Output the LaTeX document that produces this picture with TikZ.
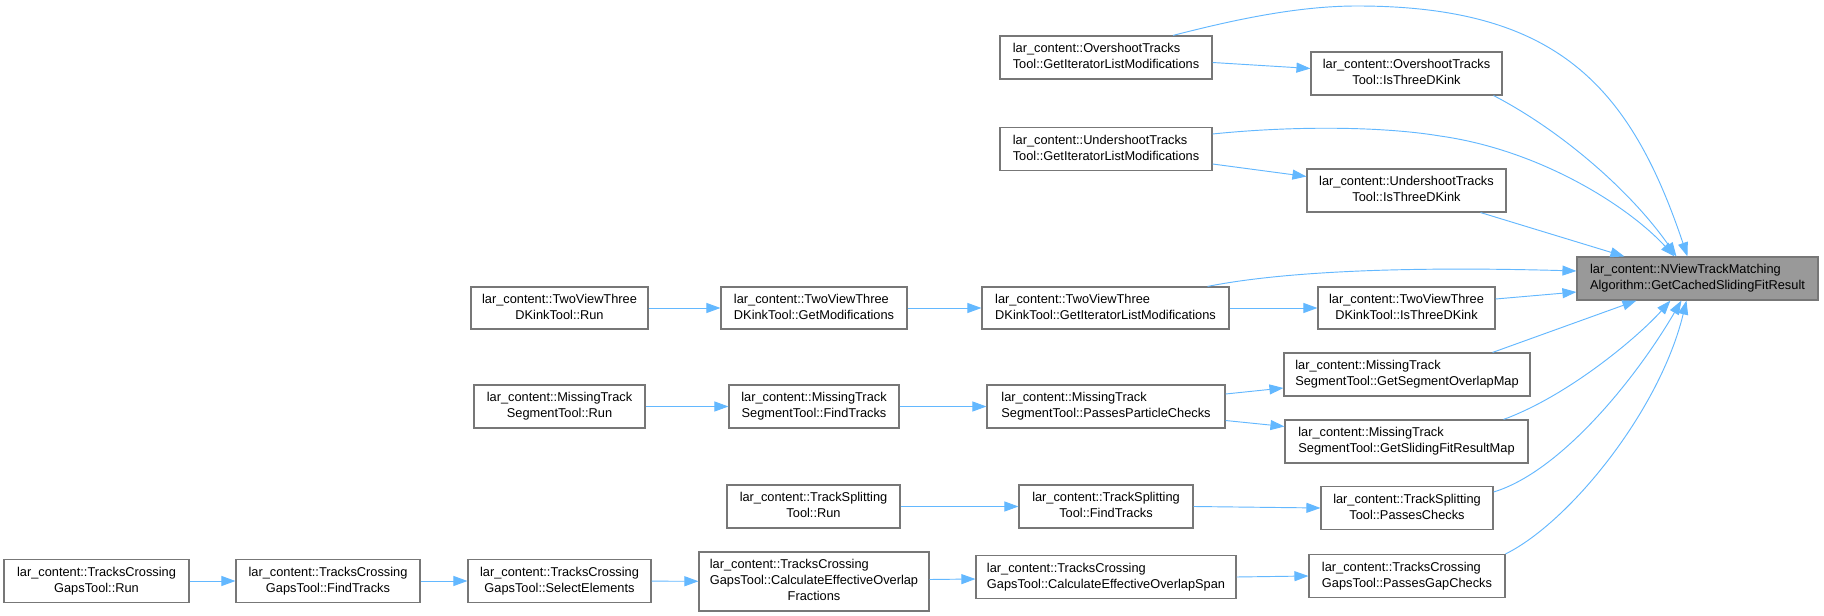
\documentclass[tikz,border=0pt]{standalone}
\usepackage{fontspec}
\setmainfont{Liberation Sans}
\usetikzlibrary{arrows.meta,calc}
\definecolor{edgeblue}{HTML}{63B8FF}
\definecolor{boxline}{HTML}{777777}
\definecolor{tgtfill}{HTML}{999999}
\newcommand\lbl[2]{\begin{tabular}{@{}l@{}}#1\\\multicolumn{1}{@{}c@{}}{#2}\end{tabular}}
\newcommand\lbliii[3]{\begin{tabular}{@{}l@{}}#1\\#2\\\multicolumn{1}{@{}c@{}}{#3}\end{tabular}}
\begin{document}
\begin{tikzpicture}[x=0.75pt,y=-0.75pt,
  box/.style={draw=boxline,line width=0.85pt,fill=white,rectangle,inner sep=0pt,
    minimum height=32.25pt,font=\fontsize{9.6pt}{11.8pt}\selectfont},
  edge/.style={draw=edgeblue,line width=0.7pt,-{Triangle[length=10.5pt,width=7.5pt]}}]
\useasboundingbox (0,0) rectangle (1824,616);
\fill[white] (0,0) rectangle (1824,616);
% nodes
\node[box,fill=tgtfill,minimum width=180.75pt] (tgt) at (1697.5,278.5) {\lbl{lar\_content::NViewTrackMatching}{Algorithm::GetCachedSlidingFitResult}};
\node[box,minimum width=159pt] (osgil) at (1106,57.5) {\lbl{lar\_content::OvershootTracks}{Tool::GetIteratorListModifications}};
\node[box,minimum width=143.25pt] (osk) at (1406.5,73.5) {\lbl{lar\_content::OvershootTracks}{Tool::IsThreeDKink}};
\node[box,minimum width=159pt] (usgil) at (1106,149) {\lbl{lar\_content::UndershootTracks}{Tool::GetIteratorListModifications}};
\node[box,minimum width=149.25pt] (usk) at (1406.5,190.5) {\lbl{lar\_content::UndershootTracks}{Tool::IsThreeDKink}};
\node[box,minimum width=185.25pt,minimum height=31.5pt] (tvgil) at (1105.5,308) {\lbl{lar\_content::TwoViewThree}{DKinkTool::GetIteratorListModifications}};
\node[box,minimum width=132.75pt,minimum height=31.5pt] (tvk) at (1406.5,308) {\lbl{lar\_content::TwoViewThree}{DKinkTool::IsThreeDKink}};
\node[box,minimum width=139.5pt,minimum height=31.5pt] (tvgm) at (814,308) {\lbl{lar\_content::TwoViewThree}{DKinkTool::GetModifications}};
\node[box,minimum width=132.75pt,minimum height=31.5pt] (tvrun) at (559.5,308) {\lbl{lar\_content::TwoViewThree}{DKinkTool::Run}};
\node[box,minimum width=128.25pt] (mtrun) at (559.5,406.5) {\lbl{lar\_content::MissingTrack}{SegmentTool::Run}};
\node[box,minimum width=127.5pt] (mtft) at (814,406.5) {\lbl{lar\_content::MissingTrack}{SegmentTool::FindTracks}};
\node[box,minimum width=178.5pt] (mtppc) at (1106,406.5) {\lbl{lar\_content::MissingTrack}{SegmentTool::PassesParticleChecks}};
\node[box,minimum width=184.5pt] (mtso) at (1407,374.5) {\lbl{lar\_content::MissingTrack}{SegmentTool::GetSegmentOverlapMap}};
\node[box,minimum width=182.25pt] (mtsf) at (1406.5,441.5) {\lbl{lar\_content::MissingTrack}{SegmentTool::GetSlidingFitResultMap}};
\node[box,minimum width=129.75pt] (tsrun) at (813.5,506.5) {\lbl{lar\_content::TrackSplitting}{Tool::Run}};
\node[box,minimum width=130.5pt] (tsft) at (1106,506.5) {\lbl{lar\_content::TrackSplitting}{Tool::FindTracks}};
\node[box,minimum width=129pt] (tspc) at (1407,508) {\lbl{lar\_content::TrackSplitting}{Tool::PassesChecks}};
\node[box,minimum width=138.75pt] (tcrun) at (96.5,581) {\lbl{lar\_content::TracksCrossing}{GapsTool::Run}};
\node[box,minimum width=138pt] (tcft) at (328,581) {\lbl{lar\_content::TracksCrossing}{GapsTool::FindTracks}};
\node[box,minimum width=137.25pt] (tcse) at (559.5,581) {\lbl{lar\_content::TracksCrossing}{GapsTool::SelectElements}};
\node[box,minimum width=172.5pt,minimum height=44.25pt] (tcfrac) at (814,581.5) {\lbliii{lar\_content::TracksCrossing}{GapsTool::CalculateEffectiveOverlap}{Fractions}};
\node[box,minimum width=195pt] (tcspan) at (1106,577) {\lbl{lar\_content::TracksCrossing}{GapsTool::CalculateEffectiveOverlapSpan}};
\node[box,minimum width=147pt] (tcpgc) at (1407,576) {\lbl{lar\_content::TracksCrossing}{GapsTool::PassesGapChecks}};
% straight edges
\draw[edge] ($(osgil.east)+(0,5)$) -- ($(osk.west)+(0,-5)$);
\draw[edge] ($(usgil.east)+(0,15)$) -- ($(usk.west)+(0,-14)$);
\draw[edge] (tvrun) -- (tvgm);
\draw[edge] (tvgm) -- (tvgil);
\draw[edge] (tvgil) -- (tvk);
\draw[edge] (mtrun) -- (mtft);
\draw[edge] (mtft) -- (mtppc);
\draw[edge] ($(mtppc.east)+(0,-12.5)$) -- ($(mtso.west)+(0,13.5)$);
\draw[edge] ($(mtppc.east)+(0,14)$) -- ($(mtsf.west)+(0,-15)$);
\draw[edge] (tsrun) -- (tsft);
\draw[edge] (tsft.east) -- (tspc.west);
\draw[edge] (tcrun) -- (tcft);
\draw[edge] (tcft) -- (tcse);
\draw[edge] (tcse) -- (tcfrac);
\draw[edge] ($(tcfrac.east)+(0,-2)$) -- ($(tcspan.west)+(0,2)$);
\draw[edge] (tcspan.east) -- (tcpgc.west);
% edges into target
\draw[edge] ($(osgil.north)+(67,0)$) .. controls (1233,20) and (1297,6) .. (1357,6) .. controls (1557,6) and (1630,86) .. ($(tgt.north west)+(111,0)$);
\draw[edge] ($(osk.south east)+(-9,0)$) .. controls (1560,130) and (1630,190) .. ($(tgt.north west)+(100,0)$);
\draw[edge] ($(usgil.east)+(0,-15)$) .. controls (1290,126) and (1380,126) .. (1440,136) .. controls (1540,150) and (1628,206) .. ($(tgt.north west)+(98,0)$);
\draw[edge] ($(usk.south east)+(-26,0)$) -- ($(tgt.north west)+(48,0)$);
\draw[edge] ($(tvgil.north east)+(-22,0)$) .. controls (1280,272) and (1400,266) .. ($(tgt.west)+(0,-7.5)$);
\draw[edge] ($(tvk.east)+(0,-9)$) -- ($(tgt.west)+(0,13.5)$);
\draw[edge] ($(mtso.north east)+(-38,0)$) -- ($(tgt.south west)+(60,0)$);
\draw[edge] ($(mtsf.north east)+(-25,0)$) .. controls (1570,395) and (1640,335) .. ($(tgt.south west)+(94,0)$);
\draw[edge] ($(tspc.east)+(0,-16)$) .. controls (1560,472) and (1635,380) .. ($(tgt.south west)+(105,0)$);
\draw[edge] (tcpgc.north east) .. controls (1570,522) and (1660,410) .. ($(tgt.south west)+(110,0)$);
\end{tikzpicture}
\end{document}
